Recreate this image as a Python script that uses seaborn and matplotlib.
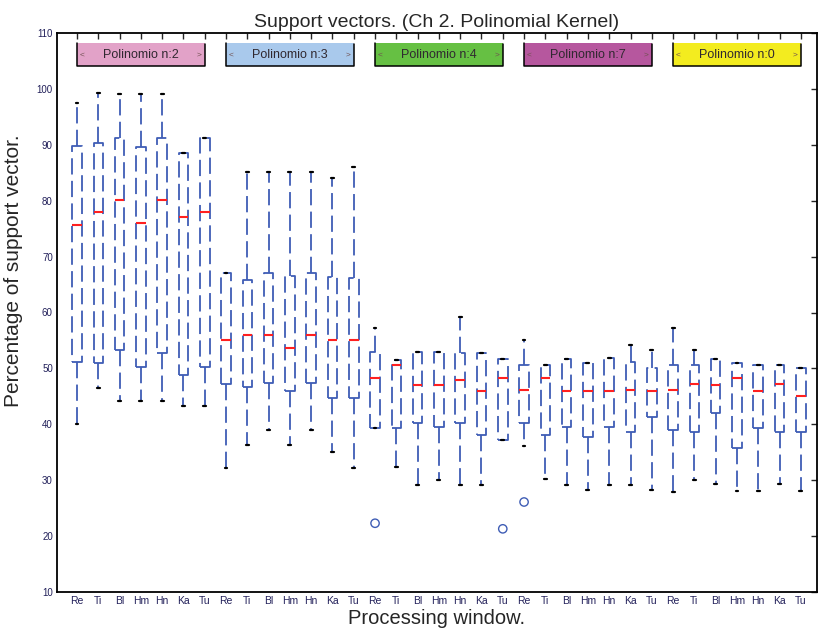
import numpy as np
import pandas as pd
import matplotlib
matplotlib.use("Agg")
import matplotlib.pyplot as plt
import matplotlib.colors as mcolors
import seaborn as sns
from matplotlib.patches import Rectangle

# ---------------- data ----------------
windows = ["Re", "Ti", "Bl", "Hm", "Hn", "Ka", "Tu"]
kernels = ["Polinomio n:2", "Polinomio n:3", "Polinomio n:4", "Polinomio n:7", "Polinomio n:0"]
kernel_colors = ["#e2a2c8", "#a9c9ec", "#66c043", "#b6579e", "#f3ec1f"]

# five-number summaries, 35 boxes (kernel-major, window-minor)
whisker_low = [40.0, 46.5, 44.2, 44.2, 44.2, 43.3, 43.3,
               32.2, 36.3, 39.0, 36.3, 39.0, 35.0, 32.2,
               39.3, 32.4, 29.1, 30.0, 29.1, 29.1, 37.2,
               36.1, 30.2, 29.1, 28.2, 29.1, 29.1, 28.2,
               27.9, 30.0, 29.3, 28.1, 28.1, 29.3, 28.1]
quartile_1 = [51.2, 51.0, 53.3, 50.2, 52.8, 48.8, 50.2,
              47.2, 46.6, 47.4, 46.0, 47.4, 44.7, 44.7,
              39.3, 39.3, 40.2, 39.5, 40.2, 38.0, 37.2,
              40.2, 38.0, 39.5, 37.8, 39.5, 38.6, 41.3,
              39.0, 38.6, 42.0, 35.7, 39.3, 38.6, 38.6]
median = [75.6, 78.0, 80.1, 76.0, 80.1, 77.1, 78.0,
          55.0, 56.0, 56.0, 53.6, 56.0, 55.0, 55.0,
          48.3, 50.6, 47.0, 47.0, 48.0, 46.0, 48.3,
          46.1, 48.3, 46.0, 46.0, 46.0, 46.1, 46.0,
          46.1, 47.2, 47.0, 48.3, 46.0, 47.2, 45.0]
quartile_3 = [89.7, 90.3, 91.2, 89.6, 91.2, 88.5, 91.2,
              67.1, 65.8, 67.1, 66.5, 67.1, 66.4, 66.2,
              53.0, 51.5, 53.0, 53.0, 52.7, 52.8, 51.7,
              50.6, 50.6, 51.7, 51.0, 51.9, 51.2, 50.0,
              50.6, 50.6, 51.7, 51.0, 50.6, 50.6, 50.0]
whisker_high = [97.5, 99.3, 99.1, 99.1, 99.1, 88.5, 91.2,
                67.1, 85.1, 85.1, 85.1, 85.1, 84.0, 86.0,
                57.2, 51.5, 53.0, 53.0, 59.2, 52.8, 51.7,
                55.1, 50.6, 51.7, 51.0, 51.9, 54.2, 53.3,
                57.2, 53.3, 51.7, 51.0, 50.6, 50.6, 50.0]
outlier_box = [14, 20, 21]
outlier_value = [22.3, 21.3, 26.1]
y_ticks = [10, 20, 30, 40, 50, 60, 70, 80, 90, 100, 110]

# ---------------- build tables ----------------
n_box = len(kernels) * len(windows)
order = [str(i) for i in range(n_box)]
rows = []
for i in range(n_box):
    for v in (whisker_low[i], quartile_1[i], median[i], quartile_3[i], whisker_high[i]):
        rows.append({"box": str(i), "value": v})
df = pd.DataFrame(rows)
out_df = pd.DataFrame({"box": [str(b) for b in outlier_box], "value": outlier_value})

# ---------------- style ----------------
sns.set_style("white")
plt.rcParams["font.family"] = ["Liberation Sans", "DejaVu Sans"]

blue = "#3f5db5"
dash = (0, (9, 3.5))

fig = plt.figure(figsize=(8.18, 6.35), dpi=100)
ax = fig.add_axes([57 / 818, 1 - 592 / 635, 1 - 57 / 818 - 0.0015, (592 - 33) / 635])

sns.boxplot(data=df, x="box", y="value", order=order, whis=(0, 100),
            width=0.45, fill=False, color=blue, linewidth=1.3,
            showfliers=False,
            boxprops=dict(linestyle=dash),
            whiskerprops=dict(linestyle=dash, color=blue),
            medianprops=dict(color="#ff2020", linestyle="-", linewidth=1.5),
            capprops=dict(color="black", linestyle="-", linewidth=1.6),
            ax=ax)

# shorter whisker caps, as in the original figure
for ln in ax.lines:
    xd, yd = np.asarray(ln.get_xdata(), float), np.asarray(ln.get_ydata(), float)
    if (len(xd) == 2 and mcolors.to_hex(ln.get_color()) == "#000000"
            and yd[0] == yd[1]):
        c = xd.mean()
        ln.set_xdata(c + (xd - c) * 0.6)

sns.stripplot(data=out_df, x="box", y="value", order=order, jitter=False,
              marker="o", s=6, color=blue, facecolors="none",
              edgecolor=blue, linewidth=1.0, ax=ax)

# kernel group labels (coloured bars across each group's windows)
nw = len(windows)
for g, (name, col) in enumerate(zip(kernels, kernel_colors)):
    x0, x1 = g * nw, g * nw + nw - 1
    ax.add_patch(Rectangle((x0, 104.1), x1 - x0, 4.1, facecolor=col,
                           edgecolor="none", zorder=3))
    ax.plot([x0, x0, x1, x1], [108.2, 104.1, 104.1, 108.0], color="black",
            lw=1.1, zorder=4)
    ax.text((x0 + x1) / 2, 106.1, name, ha="center", va="center",
            fontsize=9, color="#302830", zorder=5)
    ax.text(x0 + 0.25, 106.1, "<", ha="center", va="center", fontsize=6,
            color="#705050", zorder=5)
    ax.text(x1 - 0.25, 106.1, ">", ha="center", va="center", fontsize=6,
            color="#705050", zorder=5)

ax.set_xlim(-0.94, 34.75)
ax.set_ylim(10, 110)
ax.set_yticks(y_ticks)
ax.set_yticklabels([str(t) for t in y_ticks], fontsize=7, color="#22205a")
ax.set_xticks(range(n_box))
ax.set_xticklabels(windows * len(kernels), fontsize=7.5, color="#22205a")
ax.tick_params(direction="in", top=True, right=True, length=4, width=1.0,
               pad=3)
for s in ax.spines.values():
    s.set_visible(True)
    s.set_color("black")
    s.set_linewidth(1.3)

ax.set_title("Support vectors. (Ch 2. Polinomial Kernel)", fontsize=14, pad=4)
ax.set_xlabel("Processing window.", fontsize=14.5, labelpad=2)
ax.set_ylabel("Percentage of support vector.", fontsize=15)
ax.yaxis.set_label_coords(-0.045, 0.575)

fig.savefig("out.png", dpi=100)
